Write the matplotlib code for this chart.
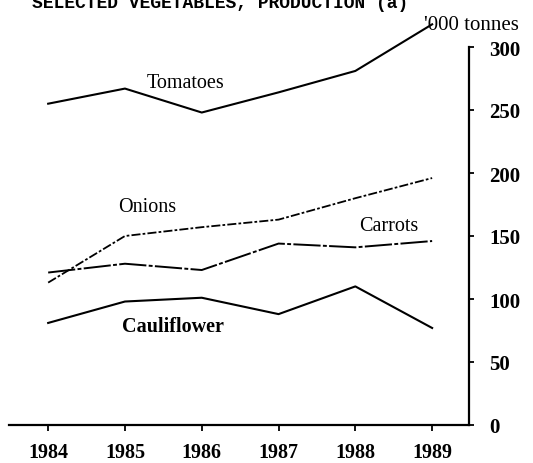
import matplotlib
matplotlib.use("Agg")
import matplotlib.pyplot as plt

years = [1984, 1985, 1986, 1987, 1988, 1989]
tomatoes = [255, 267, 248, 264, 281, 318]
onions = [113, 150, 157, 163, 180, 196]
carrots = [121, 128, 123, 144, 141, 146]
cauliflower = [81, 98, 101, 88, 110, 77]
yticks = [0, 50, 100, 150, 200, 250, 300]
title = "SELECTED VEGETABLES, PRODUCTION (a)"
unit = "'000 tonnes"

W, H = 533, 464
fig = plt.figure(figsize=(W / 100, H / 100), dpi=100)
left, right = 9 / W, 469 / W
bottom = 1 - 426 / H
top = 1 - 10 / H
ax = fig.add_axes([left, bottom, right - left, top - bottom])

serif = "Liberation Serif"
ax.plot(years, tomatoes, color="black", lw=1.5, clip_on=False)
ax.plot(years, onions, color="black", lw=1.3, dashes=(5, 1.2, 1.5, 1.2), clip_on=False)
ax.plot(years, carrots, color="black", lw=1.4, dashes=(14, 1.2, 2, 1.2), clip_on=False)
ax.plot(years, cauliflower, color="black", lw=1.5, clip_on=False)

# y range: 0 at 426 px, 1.26 px per unit
ymax = (426 - 10) / 1.26
ax.set_xlim(1983.49, 1989.48)
ax.set_ylim(0, ymax)

for s in ["top", "left"]:
    ax.spines[s].set_visible(False)
ax.spines["right"].set_bounds(0, 300)
ax.spines["right"].set_linewidth(1.6)
ax.spines["bottom"].set_linewidth(1.6)

ax.yaxis.tick_right()
ax.set_yticks(yticks)
ax.set_yticklabels([str(v) for v in yticks], fontfamily=serif, fontweight="bold", fontsize=15)
ax.tick_params(axis="y", direction="out", length=3.5, width=1.3, pad=11)

ax.set_xticks(years)
ax.set_xticklabels([str(y) for y in years], fontfamily=serif, fontweight="bold", fontsize=14.5)
ax.tick_params(axis="x", direction="out", length=4.5, width=1.3, pad=8)

def px(x, y):
    return x / W, 1 - y / H

fs = 14.5
fig.text(*px(186, 84), "Tomatoes", fontfamily=serif, fontsize=fs, ha="center", va="center")
fig.text(*px(147, 208), "Onions", fontfamily=serif, fontsize=fs, ha="center", va="center")
fig.text(*px(389, 227), "Carrots", fontfamily=serif, fontsize=fs, ha="center", va="center")
fig.text(*px(173, 327), "Cauliflower", fontfamily=serif, fontsize=fs, ha="center", va="center", fontweight="bold")
fig.text(*px(424, 26), unit, fontfamily=serif, fontsize=15, ha="left", va="center")
fig.text(*px(32, 8), title, fontfamily="Liberation Mono", fontweight="bold", fontsize=13,
         ha="left", va="baseline")

fig.savefig("out.png", dpi=100)
